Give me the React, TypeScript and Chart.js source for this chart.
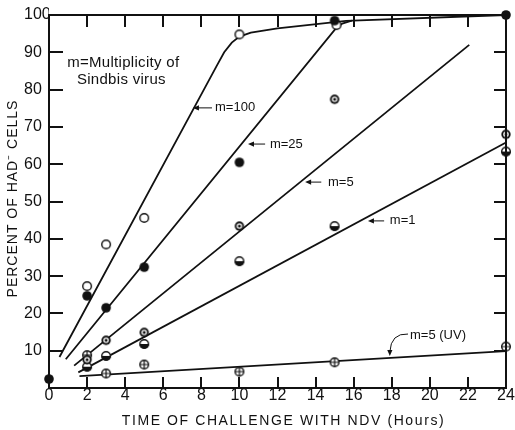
import React, { useEffect, useRef } from 'react';
import { Chart, registerables } from 'chart.js';

Chart.register(...registerables);

// ---- Data ----
// Hours of challenge with NDV
const m100X = [2, 3, 5, 10, 15.1];
const m100Y = [27.3, 38.5, 45.6, 94.8, 97.3];
const m25X = [0, 2, 3, 5, 10, 15, 24];
const m25Y = [2.4, 24.7, 21.5, 32.4, 60.5, 98.5, 100];
const m5X = [2, 3, 5, 10, 15, 24];
const m5Y = [7.6, 12.8, 14.9, 43.4, 77.4, 68];
const m1X = [2, 3, 5, 10, 15, 24];
const m1Y = [5.7, 8.6, 11.8, 34, 43.4, 63.4];
const uvX = [2, 3, 5, 10, 15, 24];
const uvY = [8.8, 3.9, 6.3, 4.4, 6.9, 11.1];

// Fitted (hand-drawn) curves
const fitM100X = [0.55, 8.8, 9.2, 9.6, 10.0, 10.6, 12, 15.6, 24];
const fitM100Y = [8.3, 86.3, 90, 92.6, 94.2, 95.3, 96.4, 98.4, 100];
const fitM25X = [0.88, 15.0, 15.4, 15.9];
const fitM25Y = [7.7, 96, 97.7, 98.5];
const fitM5X = [1.32, 22.07];
const fitM5Y = [6.0, 92];
const fitM1X = [1.54, 24];
const fitM1Y = [4.2, 65.8];
const fitUvX = [1.6, 24];
const fitUvY = [3.2, 9.9];

// Axis ranges / ticks
const xMin = 0, xMax = 24, xStep = 2;
const yMin = 0, yMax = 100, yStep = 10;
const innerXTicks = [2, 4, 6, 8, 10, 12, 14, 16, 18, 20, 22];
const innerYTicks = [10, 20, 30, 40, 50, 60, 70, 80, 90];

const xTitle = 'TIME OF CHALLENGE WITH NDV (Hours)';
const yTitle = 'PERCENT OF HAD\u207B CELLS';
const noteLines = ['m=Multiplicity of', 'Sindbis virus'];

// Curve labels: text, arrow head (data coords), arrow tail (data coords), text left
const labelText = ['m=100', 'm=25', 'm=5', 'm=1'];
const labelHeadX = [7.56, 10.45, 13.45, 16.75];
const labelTailX = [8.56, 11.35, 14.3, 17.6];
const labelTextX = [8.72, 11.6, 14.65, 17.9];
const labelY = [75.1, 65.4, 55.2, 44.8];

const uvLabel = 'm=5 (UV)';
const uvLabelX = 18.96, uvLabelY = 14.2;
const uvHeadX = 17.9, uvHeadY = 8.6;

const INK = '#111111';
const FONT = '"Liberation Sans", Arial, sans-serif';

const zip = (xs: number[], ys: number[]) => xs.map((x, i) => ({ x, y: ys[i] }));

function makeMarker(kind: string): HTMLCanvasElement {
  const s = 12;
  const c = document.createElement('canvas');
  c.width = s; c.height = s;
  const g = c.getContext('2d')!;
  const cx = s / 2, cy = s / 2, r = 4.3;
  g.lineWidth = 1.4;
  g.strokeStyle = INK;
  const circle = (rad: number) => { g.beginPath(); g.arc(cx, cy, rad, 0, Math.PI * 2); };
  if (kind === 'open') {
    circle(r); g.fillStyle = '#fff'; g.fill(); g.stroke();
  } else if (kind === 'filled') {
    circle(r + 0.5); g.fillStyle = INK; g.fill();
  } else if (kind === 'target') {
    circle(r + 0.4); g.fillStyle = INK; g.fill();
    circle(2.8); g.fillStyle = '#fff'; g.fill();
    circle(1.5); g.fillStyle = INK; g.fill();
  } else if (kind === 'half') {
    circle(r); g.fillStyle = '#fff'; g.fill(); g.stroke();
    g.beginPath(); g.arc(cx, cy, r + 0.5, 0, Math.PI); g.closePath(); g.fillStyle = INK; g.fill();
  } else if (kind === 'cross') {
    circle(r); g.fillStyle = '#fff'; g.fill(); g.stroke();
    g.beginPath();
    g.moveTo(cx - r, cy); g.lineTo(cx + r, cy);
    g.moveTo(cx, cy - r); g.lineTo(cx, cy + r);
    g.lineWidth = 1.2; g.stroke();
  }
  return c;
}

function arrowHead(ctx: CanvasRenderingContext2D, tx: number, ty: number, angle: number) {
  const len = 6, wid = 2.6;
  ctx.save();
  ctx.translate(tx, ty);
  ctx.rotate(angle);
  ctx.beginPath();
  ctx.moveTo(0, 0);
  ctx.lineTo(-len, -wid);
  ctx.lineTo(-len, wid);
  ctx.closePath();
  ctx.fillStyle = INK;
  ctx.fill();
  ctx.restore();
}

const textPlugin = {
  id: 'annotText',
  afterDraw(chart: any) {
    const ctx: CanvasRenderingContext2D = chart.ctx;
    const a = chart.chartArea;
    const xs = chart.scales.x, ys = chart.scales.y;
    const X = (v: number) => xs.getPixelForValue(v);
    const Y = (v: number) => ys.getPixelForValue(v);
    ctx.save();
    ctx.strokeStyle = INK;
    ctx.fillStyle = INK;

    // frame
    ctx.lineWidth = 2;
    ctx.strokeRect(a.left, a.top, a.right - a.left, a.bottom - a.top);

    // inward tick marks, drawn as thin filled triangles-free rectangles
    const T = 11;
    innerXTicks.forEach((v) => {
      const px = Math.round(X(v));
      ctx.fillRect(px - 1, a.bottom - T, 2, T);
      ctx.fillRect(px - 1, a.top, 2, T + 1);
    });
    innerYTicks.forEach((v) => {
      const py = Math.round(Y(v));
      ctx.fillRect(a.left, py - 1, T + 3, 2);
      ctx.fillRect(a.right - T - 1, py - 1, T + 1, 2);
    });

    // axis titles
    ctx.font = `14px ${FONT}`;
    (ctx as any).letterSpacing = '1.6px';
    ctx.textAlign = 'center';
    ctx.textBaseline = 'middle';
    ctx.fillText(xTitle, (a.left + a.right) / 2 + 6, 421);
    ctx.save();
    (ctx as any).letterSpacing = '1px';
    ctx.translate(13, (a.top + a.bottom) / 2 - 3);
    ctx.rotate(-Math.PI / 2);
    ctx.fillText(yTitle, 0, 0);
    ctx.restore();

    // note
    (ctx as any).letterSpacing = '0.3px';
    ctx.font = `15px ${FONT}`;
    ctx.textAlign = 'center';
    ctx.fillText(noteLines[0], X(3.9), Y(87.1));
    ctx.fillText(noteLines[1], X(3.8), Y(82.6));

    // curve labels with arrows
    ctx.font = `13px ${FONT}`;
    (ctx as any).letterSpacing = '0px';
    ctx.textAlign = 'left';
    ctx.lineWidth = 1;
    labelText.forEach((txt, i) => {
      const y = Y(labelY[i]);
      const hx = X(labelHeadX[i]), tx = X(labelTailX[i]);
      ctx.beginPath();
      ctx.moveTo(tx, y);
      ctx.lineTo(hx + 4, y);
      ctx.stroke();
      arrowHead(ctx, hx, y, Math.PI);
      ctx.fillText(txt, X(labelTextX[i]), y);
    });

    // UV label with curved arrow
    const lx = X(uvLabelX), ly = Y(uvLabelY);
    ctx.fillText(uvLabel, lx, ly);
    const hx = X(uvHeadX), hy = Y(uvHeadY);
    ctx.beginPath();
    ctx.moveTo(lx - 2, ly - 1);
    ctx.quadraticCurveTo(hx + 1, ly - 2, hx, hy - 4);
    ctx.stroke();
    arrowHead(ctx, hx, hy, Math.PI / 2);
    ctx.restore();
  },
};

export default function App() {
  const ref = useRef<HTMLCanvasElement | null>(null);
  useEffect(() => {
    document.body.style.margin = '0';
    const canvas = ref.current!;
    const markerDs = (xs: number[], ys: number[], kind: string) => ({
      data: zip(xs, ys),
      showLine: false,
      pointStyle: makeMarker(kind),
      pointRadius: 5,
      clip: false as any,
    });
    const lineDs = (xs: number[], ys: number[]) => ({
      data: zip(xs, ys),
      showLine: true,
      borderColor: INK,
      borderWidth: 1.8,
      pointRadius: 0,
      tension: 0,
      clip: false as any,
    });
    const chart = new Chart(canvas, {
      type: 'scatter',
      data: {
        datasets: [
          markerDs(m25X, m25Y, 'filled'),
          markerDs(m100X, m100Y, 'open'),
          markerDs(m5X, m5Y, 'target'),
          markerDs(m1X, m1Y, 'half'),
          markerDs(uvX, uvY, 'cross'),
          lineDs(fitM100X, fitM100Y),
          lineDs(fitM25X, fitM25Y),
          lineDs(fitM5X, fitM5Y),
          lineDs(fitM1X, fitM1Y),
          lineDs(fitUvX, fitUvY),
        ] as any,
      },
      options: {
        responsive: false,
        animation: false,
        devicePixelRatio: 1,
        layout: { padding: { left: 24, right: 9, top: 15, bottom: 0 } },
        plugins: { legend: { display: false }, tooltip: { enabled: false } },
        scales: {
          x: {
            type: 'linear',
            min: xMin,
            max: xMax,
            grid: { display: false, drawTicks: false },
            border: { display: false },
            ticks: {
              stepSize: xStep,
              padding: 0,
              color: INK,
              font: { family: FONT, size: 16, lineHeight: 1 },
              maxRotation: 0,
              autoSkip: false,
            },
            afterFit: (s: any) => { s.height = 42; s.paddingLeft = 0; s.paddingRight = 0; },
          },
          y: {
            type: 'linear',
            min: yMin,
            max: yMax,
            grid: { display: false, drawTicks: false },
            border: { display: false },
            ticks: {
              stepSize: yStep,
              padding: 0,
              crossAlign: 'far',
              color: INK,
              font: { family: FONT, size: 16, lineHeight: 1 },
              callback: (v: any) => (v === 0 ? '' : String(v)),
            },
            afterFit: (s: any) => { s.width = 25; s.paddingTop = 0; s.paddingBottom = 0; },
          },
        },
      } as any,
      plugins: [textPlugin],
    });
    return () => chart.destroy();
  }, []);
  return (
    <div style={{ width: 515, height: 430, background: '#fff' }}>
      <canvas ref={ref} width={515} height={430} style={{ display: 'block' }} />
    </div>
  );
}
